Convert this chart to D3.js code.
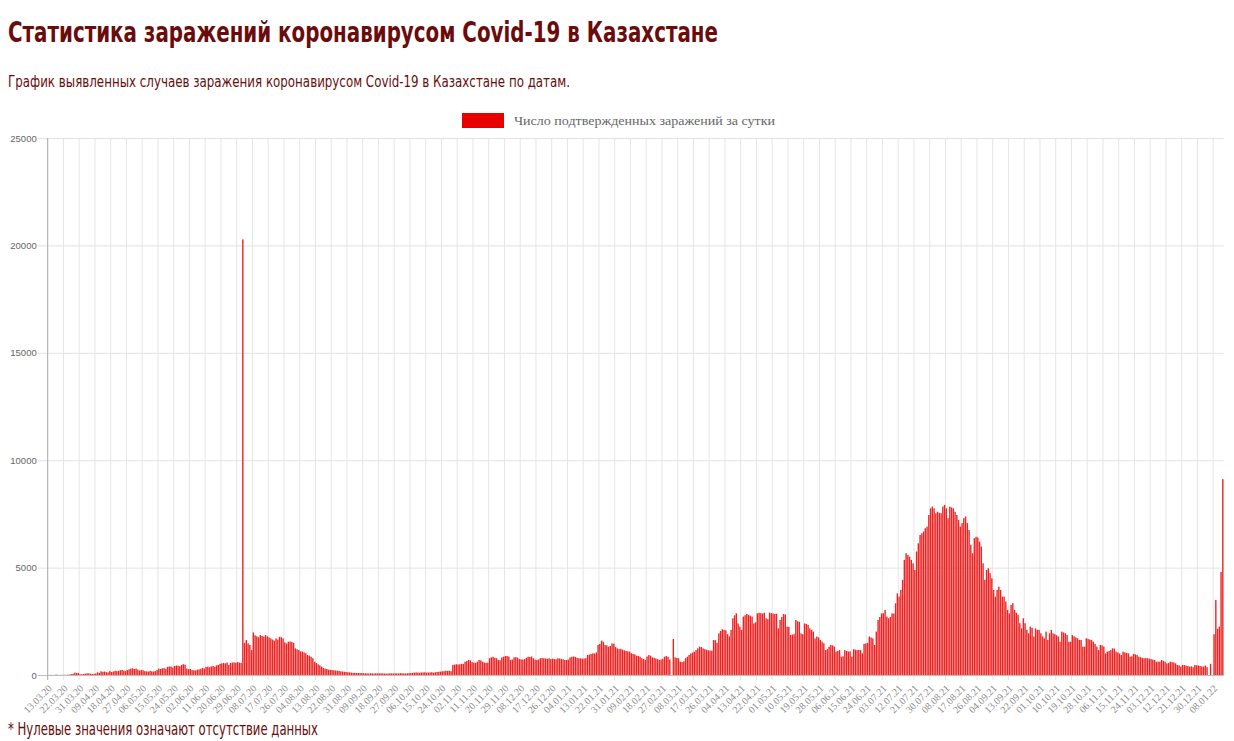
<!DOCTYPE html>
<html>
<head>
<meta charset="utf-8">
<script src="https://cdn.jsdelivr.net/npm/d3@7"></script>
<style>
  body { margin: 0; background: #fff; }
  svg { display: block; }
</style>
</head>
<body>
<script>
// daily confirmed cases, one value per day starting 13.03.20 (0 = no data)
const dailyCases = [
  1, 8, 0, 0, 10, 14, 3, 6, 5, 9,
  7, 13, 20, 40, 60, 110, 100, 90, 40, 35,
  50, 60, 80, 75, 60, 50, 55, 70, 120, 100,
  170, 150, 160, 130, 120, 180, 140, 160, 200, 180,
  190, 220, 240, 200, 180, 230, 260, 300, 310, 280,
  300, 250, 210, 230, 220, 180, 170, 160, 190, 170,
  160, 180, 230, 300, 280, 310, 320, 290, 380, 400,
  390, 350, 420, 440, 430, 410, 470, 500, 480, 300,
  270, 280, 230, 220, 210, 250, 260, 290, 330, 300,
  380, 390, 360, 400, 420, 380, 450, 470, 520, 540,
  560, 540, 580, 470, 560, 580, 590, 570, 600, 580,
  560, 20280, 1500, 1630, 1470, 1400, 1160, 1980, 1850, 1800,
  1760, 1860, 1820, 1780, 1860, 1800, 1750, 1700, 1650, 1600,
  1700, 1650, 1780, 1760, 1700, 1520, 1470, 1550, 1560, 1540,
  1500, 1240, 1200, 1160, 1100, 1090, 1050, 1010, 930, 900,
  850, 780, 620, 560, 500, 450, 390, 330, 300, 280,
  250, 240, 230, 220, 210, 200, 190, 170, 160, 150,
  140, 130, 120, 110, 100, 100, 95, 90, 90, 85,
  80, 80, 75, 70, 80, 75, 70, 80, 75, 70,
  80, 75, 70, 65, 70, 80, 75, 70, 80, 75,
  70, 85, 80, 75, 70, 80, 85, 90, 100, 110,
  120, 110, 105, 115, 120, 125, 110, 115, 120, 130,
  110, 125, 140, 150, 160, 170, 180, 200, 190, 200,
  180, 470, 480, 500, 490, 500, 520, 510, 620, 650,
  700, 680, 600, 575, 560, 620, 700, 680, 620, 580,
  560, 575, 780, 820, 850, 800, 780, 700, 690, 820,
  850, 880, 885, 860, 700, 720, 820, 830, 810, 740,
  730, 720, 740, 800, 850, 840, 860, 780, 720, 700,
  720, 780, 790, 780, 770, 760, 780, 740, 760, 740,
  730, 780, 770, 750, 730, 700, 700, 720, 820, 850,
  860, 840, 800, 780, 780, 760, 770, 780, 930, 950,
  980, 1010, 1000, 1050, 1400, 1450, 1600, 1550, 1400, 1380,
  1320, 1350, 1470, 1460, 1300, 1240, 1200, 1220, 1180, 1150,
  1120, 1100, 1090, 1010, 980, 960, 900, 885, 850, 780,
  740, 700, 860, 930, 900, 820, 800, 770, 740, 700,
  720, 760, 850, 885, 840, 720, 0, 1680, 820, 790,
  780, 620, 600, 640, 780, 850, 930, 1000, 1050, 1080,
  1160, 1240, 1320, 1300, 1240, 1200, 1180, 1150, 1140, 1130,
  1630, 1620, 1500, 1940, 2050, 2130, 2100, 2080, 1900, 1800,
  2100, 2640, 2780, 2870, 2400, 2250, 2100, 2720, 2780, 2840,
  2800, 2760, 2720, 2400, 2450, 2870, 2900, 2880, 2860, 2900,
  2640, 2600, 2900, 2880, 2860, 2840, 2850, 2170, 2560, 2700,
  2840, 2820, 2250, 2240, 1860, 1880, 1900, 2560, 2500, 2480,
  1940, 1900, 2400, 2380, 2330, 2170, 2100, 2020, 1700, 1790,
  1750, 1630, 1550, 1470, 1160, 1200, 1320, 1400, 1380, 1320,
  1090, 1120, 1160, 850, 870, 1160, 1120, 1090, 1100, 850,
  1200, 1180, 1160, 1170, 1160, 1010, 1450, 1470, 1500, 1790,
  1750, 1700, 1400, 2020, 2560, 2700, 2870, 2870, 3030, 2720,
  2640, 2700, 2870, 2860, 3340, 3800, 3650, 3960, 4430, 5360,
  5670, 5590, 5510, 5360, 5200, 4890, 5750, 6130, 6520, 6600,
  6680, 6830, 6910, 7450, 7760, 7840, 7760, 7530, 7600, 7550,
  7530, 7840, 7920, 7760, 7300, 7840, 7800, 7760, 7600, 7450,
  7220, 6910, 7070, 7300, 7380, 7070, 6750, 6060, 5670, 6370,
  6440, 6400, 6210, 5980, 5200, 4430, 4890, 4970, 4740, 4500,
  3960, 3650, 3960, 4110, 3960, 3650, 3650, 3420, 3030, 2870,
  3260, 3340, 3030, 2900, 2800, 2410, 2170, 2640, 2410, 2100,
  1940, 2250, 2200, 1790, 2170, 2100, 2100, 1940, 1800, 1700,
  2020, 1630, 1940, 2100, 1940, 1900, 1850, 1790, 1550, 2020,
  1980, 1940, 1860, 1550, 1550, 1860, 1800, 1750, 1710, 1630,
  1630, 1320, 1320, 1710, 1680, 1650, 1630, 1550, 1450, 1320,
  1160, 1400, 1380, 1320, 1010, 1090, 1120, 1160, 1240, 1230,
  1090, 1050, 1000, 930, 1090, 1050, 1030, 1010, 850, 870,
  980, 960, 930, 850, 830, 800, 780, 790, 780, 760,
  740, 720, 700, 620, 620, 620, 700, 660, 620, 540,
  560, 620, 600, 580, 540, 470, 450, 390, 470, 460,
  440, 420, 390, 400, 360, 470, 450, 440, 420, 400,
  390, 440, 360, 0, 520, 0, 1900, 3490, 2150, 2250,
  4800, 9120
];

// every 9th day gets a label
const tickStep = 9;
const tickLabels = [
  '13.03.20', '22.03.20', '31.03.20', '09.04.20', '18.04.20', '27.04.20', '06.05.20', '15.05.20',
  '24.05.20', '02.06.20', '11.06.20', '20.06.20', '29.06.20', '08.07.20', '17.07.20', '26.07.20',
  '04.08.20', '13.08.20', '22.08.20', '31.08.20', '09.09.20', '18.09.20', '27.09.20', '06.10.20',
  '15.10.20', '24.10.20', '02.11.20', '11.11.20', '20.11.20', '29.11.20', '08.12.20', '17.12.20',
  '26.12.20', '04.01.21', '13.01.21', '22.01.21', '31.01.21', '09.02.21', '18.02.21', '27.02.21',
  '08.03.21', '17.03.21', '26.03.21', '04.04.21', '13.04.21', '22.04.21', '01.05.21', '10.05.21',
  '19.05.21', '28.05.21', '06.06.21', '15.06.21', '24.06.21', '03.07.21', '12.07.21', '21.07.21',
  '30.07.21', '08.08.21', '17.08.21', '26.08.21', '04.09.21', '13.09.21', '22.09.21', '01.10.21',
  '10.10.21', '19.10.21', '28.10.21', '06.11.21', '15.11.21', '24.11.21', '03.12.21', '12.12.21',
  '21.12.21', '30.12.21', '08.01.22'
];
const yTicks = [0, 5000, 10000, 15000, 20000, 25000];

const title = 'Статистика заражений коронавирусом Covid-19 в Казахстане';
const subtitle = 'График выявленных случаев заражения коронавирусом Covid-19 в Казахстане по датам.';
const legendLabel = 'Число подтвержденных заражений за сутки';
const footnote = '* Нулевые значения означают отсутствие данных';

const width = 1234;
const height = 741;
const plot = { left: 47.7, right: 1223.7, top: 138, bottom: 675 };
const darkRed = '#6a0c0c';
const narrow = "'Liberation Sans Narrow', 'DejaVu Sans Condensed', 'Roboto Condensed', sans-serif";

const svg = d3.select('body').append('svg')
  .attr('width', width)
  .attr('height', height)
  .attr('viewBox', [0, 0, width, height]);

// text that has to fill a given width
function fitText(sel, w) {
  const len = sel.node().getComputedTextLength();
  if (Math.abs(len - w) > 2) {
    sel.attr('textLength', w).attr('lengthAdjust', 'spacingAndGlyphs');
  }
}

svg.append('text')
  .attr('x', 8).attr('y', 42)
  .attr('font-family', narrow)
  .attr('font-weight', 'bold')
  .attr('font-size', 29)
  .attr('fill', darkRed)
  .text(title)
  .call(fitText, 710);

svg.append('text')
  .attr('x', 8).attr('y', 87)
  .attr('font-family', narrow)
  .attr('font-size', 16)
  .attr('fill', darkRed)
  .text(subtitle)
  .call(fitText, 562);

svg.append('text')
  .attr('x', 8).attr('y', 735)
  .attr('font-family', narrow)
  .attr('font-size', 18)
  .attr('fill', darkRed)
  .text(footnote)
  .call(fitText, 310);

// legend
svg.append('rect')
  .attr('x', 462).attr('y', 113)
  .attr('width', 42).attr('height', 15)
  .attr('fill', '#e60000');

svg.append('text')
  .attr('x', 514).attr('y', 125)
  .attr('font-family', "'Liberation Serif', 'Times New Roman', serif")
  .attr('font-size', 13)
  .attr('fill', '#666')
  .text(legendLabel)
  .call(fitText, 261);

const x = d3.scaleBand()
  .domain(d3.range(dailyCases.length))
  .range([plot.left, plot.right])
  .paddingInner(0.2)
  .paddingOuter(0.1);

const step = x.step();

const y = d3.scaleLinear()
  .domain([0, 25000])
  .range([plot.bottom, plot.top]);

const tickIdx = tickLabels.map((d, k) => k * tickStep);

// vertical grid at category boundaries
svg.append('g')
  .selectAll('line')
  .data(tickIdx.filter(i => i > 0))
  .join('line')
  .attr('x1', i => x(i) - step * 0.1)
  .attr('x2', i => x(i) - step * 0.1)
  .attr('y1', plot.top)
  .attr('y2', plot.bottom + 5)
  .attr('stroke', '#e6e6e6')
  .attr('stroke-width', 1);

// y axis with horizontal grid
const yAxisG = svg.append('g')
  .attr('transform', `translate(${plot.left},0)`)
  .call(d3.axisLeft(y)
    .tickValues(yTicks)
    .tickFormat(d3.format('d'))
    .tickSize(-(plot.right - plot.left))
    .tickPadding(11));

yAxisG.select('.domain').remove();
yAxisG.selectAll('.tick line')
  .attr('x1', -10)
  .attr('stroke', d => d === 0 ? '#bdbdbd' : '#e3e3e3');
yAxisG.selectAll('.tick text')
  .attr('font-family', "'Liberation Sans', Arial, sans-serif")
  .attr('font-size', 9.5)
  .attr('fill', '#666');

svg.append('line')
  .attr('x1', plot.left).attr('x2', plot.left)
  .attr('y1', plot.top).attr('y2', plot.bottom + 5)
  .attr('stroke', '#a8a8a8');

// bars
svg.append('g')
  .selectAll('rect')
  .data(dailyCases)
  .join('rect')
  .attr('x', (d, i) => x(i))
  .attr('width', x.bandwidth())
  .attr('y', d => y(d))
  .attr('height', d => y(0) - y(d))
  .attr('fill', '#ee2424');

// x labels
const xAxisG = svg.append('g')
  .attr('transform', `translate(0,${plot.bottom})`)
  .call(d3.axisBottom(x).tickValues(tickIdx).tickFormat((d, k) => tickLabels[k]).tickSize(0));

xAxisG.select('.domain').remove();
xAxisG.selectAll('.tick text')
  .attr('font-family', "'Liberation Serif', 'Times New Roman', serif")
  .attr('font-size', 10)
  .attr('fill', '#8c8c8c')
  .attr('text-anchor', 'end')
  .attr('y', 0)
  .attr('dy', 0)
  .attr('transform', 'translate(4,14) rotate(-45)');
</script>
</body>
</html>
